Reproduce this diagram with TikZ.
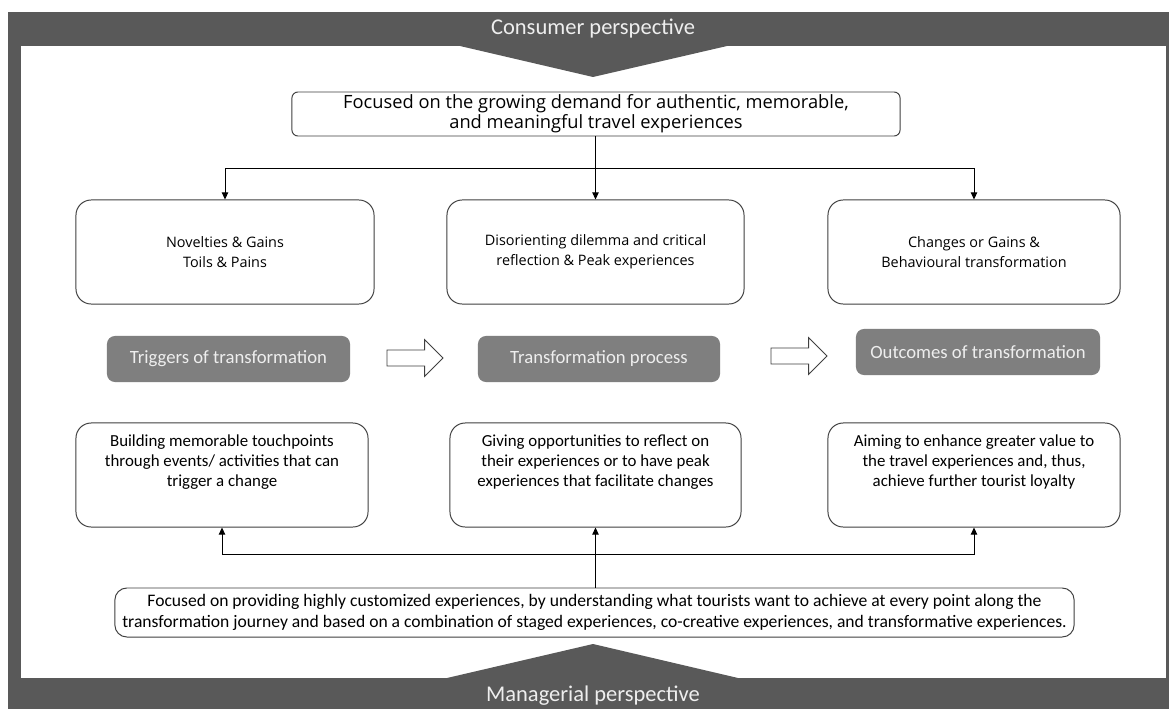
\documentclass[tikz,border=0pt]{standalone}
\usepackage{fontspec}
\setmainfont{Carlito}
\newfontfamily\segoe{Open Sans}
\usepackage{xcolor}
\usetikzlibrary{arrows.meta,calc,positioning,shapes.arrows}

\definecolor{bandgray}{HTML}{595959}
\definecolor{stagegray}{HTML}{7F7F7F}
\definecolor{edgegray}{HTML}{404040}
\definecolor{paletext}{HTML}{EEEEEE}

\tikzset{
  box/.style={draw=edgegray,line width=0.7pt,fill=white,rounded corners=0.38cm,
    align=center,inner sep=0pt,minimum height=2.6cm,
    font=\fontsize{12}{14.2}\selectfont},
  topbox/.style={box,font=\segoe\fontsize{10.25}{14.2}\selectfont},
  boxtext/.style={align=center,inner sep=0pt,yshift=0.325cm,font=\fontsize{12}{14.2}\selectfont},
  stage/.style={fill=stagegray,rounded corners=0.2cm,text=paletext,inner sep=0pt,
    minimum height=1.15cm,font=\fontsize{13.3}{16}\selectfont},
  bandtext/.style={text=paletext,inner sep=0pt,font=\fontsize{16}{19}\selectfont},
  blockarrow/.style={single arrow,draw=edgegray,line width=0.6pt,fill=white,
    minimum height=1.4cm,inner xsep=0pt,inner ysep=0.19cm,single arrow head extend=0.26cm},
  link/.style={draw=black,line width=0.7pt,-{Triangle[length=5pt,width=4.5pt]}}
}

\begin{document}
\begin{tikzpicture}[x=0.025cm,y=-0.025cm]
  \useasboundingbox (0,0) rectangle (1169,709);
  % frame and the two perspective bands
  \fill[bandgray] (8,12.5) rectangle (1169,709);
  \fill[white] (21,46) rectangle (1166,678);
  \fill[bandgray] (460,46) -- (593,77) -- (727,46) -- cycle;
  \fill[bandgray] (447,678) -- (593,644) -- (738,678) -- cycle;
  \node[bandtext] (consumer) at (593,29) {Consumer perspective};
  \node[bandtext] (managerial) at (593,696) {Managerial perspective};

  % consumer side
  \node[topbox,rounded corners=0.15cm,minimum width=15.2cm,minimum height=1.1cm,
    font=\segoe\fontsize{13}{14.5}\selectfont] (demand) at (596,114)
    {Focused on the growing demand for authentic, memorable,\\and meaningful travel experiences};
  \node[topbox,minimum width=7.45cm] (novel) at (225,252) {Novelties \& Gains\\Toils \& Pains};
  \node[topbox,minimum width=7.425cm] (dilemma) at (595.5,252) {Disorienting dilemma and critical\\reflection \& Peak experiences};
  \node[topbox,minimum width=7.3cm] (change) at (974,252) {Changes or Gains \&\\Behavioural transformation};

  % the three stages
  \node[stage,minimum width=6.075cm] (trigger) at (228.5,359) {Triggers of transformation};
  \node[stage,minimum width=6.05cm] (process) at (599,359) {Transformation process};
  \node[stage,minimum width=6.1cm] (outcome) at (978,352) {Outcomes of transformation};
  \foreach \n/\x/\y in {arrA/411/358,arrB/795/356}
    \node[blockarrow] (\n) at (\x,\y) {};

  % managerial side
  \node[box,minimum width=7.3cm,
    label={[boxtext]center:{Building memorable touchpoints\\through events/ activities that can\\trigger a change}}] (touch) at (222,475) {};
  \node[box,minimum width=7.275cm,
    label={[boxtext]center:{Giving opportunities to reflect on\\their experiences or to have peak\\experiences that facilitate changes}}] (reflect) at (595.5,475) {};
  \node[box,minimum width=7.3cm,
    label={[boxtext]center:{Aiming to enhance greater value to\\the travel experiences and, thus,\\achieve further tourist loyalty}}] (loyal) at (974,475) {};
  \node[box,rounded corners=0.3cm,minimum width=23.975cm,minimum height=1.225cm,
    font=\fontsize{12.5}{15}\selectfont] (custom) at (594.5,612.5)
    {Focused on providing highly customized experiences, by understanding what tourists want to achieve at every point along the\\
     transformation journey and based on a combination of staged experiences, co-creative experiences, and transformative experiences.};

  % connectors
  \coordinate (split) at ($(demand.south -| dilemma)!0.5!(dilemma.north)$);
  \draw[link] (demand.south -| dilemma) -- (dilemma);
  \draw[link] (split -| dilemma) -| (novel);
  \draw[link] (split -| dilemma) -| (change);
  \coordinate (join) at ($(custom.north -| reflect)!0.55!(reflect.south)$);
  \draw[link] (custom.north -| reflect) -- (reflect);
  \draw[link] (join) -| (touch);
  \draw[link] (join) -| (loyal);
\end{tikzpicture}
\end{document}
